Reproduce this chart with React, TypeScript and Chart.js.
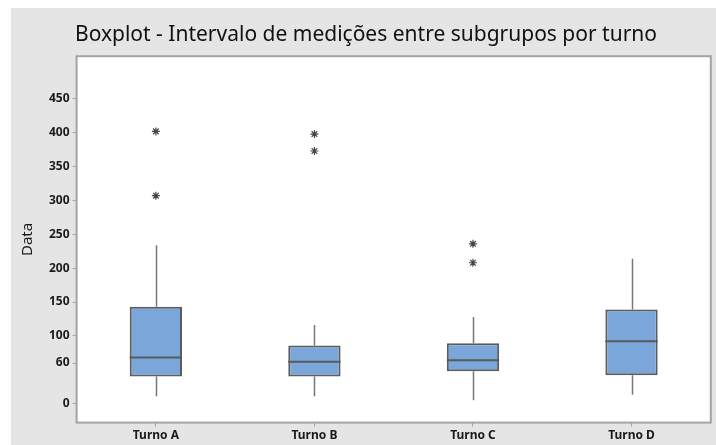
import React, { useEffect, useRef } from "react";
import { Chart, registerables } from "chart.js";

Chart.register(...registerables);

const categories = ["Turno A", "Turno B", "Turno C", "Turno D"];
const q1 = [40, 40, 48, 42];
const median = [68, 62, 64, 92];
const q3 = [143, 86, 89, 139];
const whiskerLow = [11, 11, 5, 13];
const whiskerHigh = [234, 116, 128, 214];
const outlierCat = ["Turno A", "Turno A", "Turno B", "Turno B", "Turno C", "Turno C"];
const outlierVal = [402, 307, 398, 373, 236, 208];
const yTicks = [0, 60, 100, 150, 200, 250, 300, 350, 400, 450];

const boxPlugin = {
  id: "boxExtras",
  beforeDatasetsDraw(chart: any) {
    const { ctx, chartArea, scales } = chart;
    ctx.save();
    ctx.fillStyle = "#ffffff";
    ctx.fillRect(chartArea.left, chartArea.top, chartArea.right - chartArea.left, chartArea.bottom - chartArea.top);
    const x = scales.x;
    const y = scales.y;
    ctx.strokeStyle = "#777777";
    ctx.lineWidth = 1.5;
    categories.forEach((c, i) => {
      const px = Math.round(x.getPixelForValue(i)) + 0.5;
      ctx.beginPath();
      ctx.moveTo(px, y.getPixelForValue(q3[i]));
      ctx.lineTo(px, y.getPixelForValue(whiskerHigh[i]));
      ctx.moveTo(px, y.getPixelForValue(q1[i]));
      ctx.lineTo(px, y.getPixelForValue(whiskerLow[i]));
      ctx.stroke();
    });
    ctx.restore();
  },
  afterDatasetsDraw(chart: any) {
    const { ctx, chartArea, scales } = chart;
    const meta = chart.getDatasetMeta(0);
    const y = scales.y;
    ctx.save();
    ctx.strokeStyle = "#5a5a5a";
    ctx.lineWidth = 2;
    meta.data.forEach((bar: any, i: number) => {
      const half = bar.width / 2;
      const py = y.getPixelForValue(median[i]);
      ctx.beginPath();
      ctx.moveTo(bar.x - half, py);
      ctx.lineTo(bar.x + half, py);
      ctx.stroke();
    });
    ctx.strokeStyle = "#a3a3a3";
    ctx.lineWidth = 2;
    ctx.strokeRect(chartArea.left, chartArea.top, chartArea.right - chartArea.left, chartArea.bottom - chartArea.top);
    ctx.restore();
  },
};

export default function App() {
  const ref = useRef<HTMLCanvasElement>(null);
  useEffect(() => {
    if (!ref.current) return;
    const chart = new Chart(ref.current, {
      type: "bar",
      data: {
        labels: categories,
        datasets: [
          {
            type: "bar",
            data: categories.map((_, i) => [q1[i], q3[i]]),
            backgroundColor: "#7ba6d9",
            borderColor: "#5c5c5c",
            borderWidth: 2,
            borderSkipped: false,
            categoryPercentage: 1,
            barPercentage: 0.33,
            order: 2,
          } as any,
          {
            type: "scatter",
            data: outlierCat.map((c, i) => ({ x: c, y: outlierVal[i] })),
            pointStyle: "star",
            pointRadius: 4,
            borderColor: "#444444",
            borderWidth: 1.2,
            backgroundColor: "#444444",
            order: 1,
          } as any,
        ],
      },
      options: {
        animation: false,
        responsive: true,
        maintainAspectRatio: false,
        layout: { padding: { left: 8, right: 3, top: 0, bottom: 0 } },
        plugins: {
          legend: { display: false },
          tooltip: { enabled: false },
          title: {
            display: true,
            text: "Boxplot - Intervalo de medições entre subgrupos por turno",
            color: "#111111",
            font: { family: "'Noto Sans', sans-serif", size: 21, weight: "normal" },
            padding: { top: 14, bottom: 9 },
          },
        },
        scales: {
          x: {
            type: "category",
            offset: true,
            border: { display: false },
            grid: { drawOnChartArea: false, drawTicks: true, tickLength: 4, color: "#a3a3a3", offset: false },
            ticks: {
              color: "#1a1a1a",
              font: { family: "'Noto Sans', sans-serif", size: 12, weight: "bold" },
              padding: 2,
            },
          },
          y: {
            min: -28,
            max: 513,
            border: { display: false },
            afterBuildTicks: (axis: any) => {
              axis.ticks = yTicks.map((v) => ({ value: v }));
            },
            grid: { drawOnChartArea: false, drawTicks: true, tickLength: 4, color: "#a3a3a3" },
            ticks: {
              color: "#1a1a1a",
              font: { family: "'Noto Sans', sans-serif", size: 12, weight: "bold" },
              padding: 3,
            },
            title: {
              display: true,
              text: "Data",
              color: "#1a1a1a",
              font: { family: "'Noto Sans', sans-serif", size: 15 },
              padding: { top: 0, bottom: 9 },
            },
          },
        },
      },
      plugins: [boxPlugin],
    });
    return () => chart.destroy();
  }, []);
  return (
    <div
      style={{
        position: "fixed",
        left: 11,
        top: 8,
        right: 0,
        bottom: 0,
        background: "#e5e5e5",
      }}
    >
      <canvas ref={ref} />
    </div>
  );
}
